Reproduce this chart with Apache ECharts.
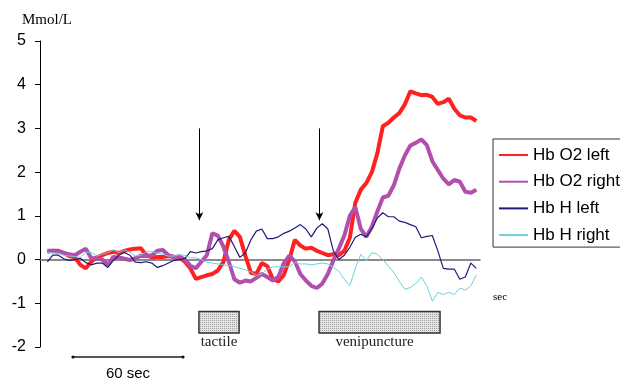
<!DOCTYPE html>
<html><head><meta charset="utf-8">
<script src="https://cdn.jsdelivr.net/npm/echarts@6/dist/echarts.min.js"></script>
<style>html,body{margin:0;padding:0;background:#fff}#c{width:620px;height:383px}</style>
</head><body><div id="c"></div>
<script>
// time in seconds
const timeSec = [4,7,10,13,16,19,22,25,28,31,34,37,40,43,46,49,52,55,58,61,64,67,70,73,76,79,82,85,88,91,94,97,100,103,106,109,112,115,118,121,124,127,130,133,136,139,142,145,148,151,154,157,160,163,166,169,172,175,178,181,184,187,190,193,196,199,202,205,208,211,214,217,220,223,226,229,232,235,238];
const hbO2Left = [0.18,0.2,0.2,0.15,0.08,0.05,-0.12,-0.2,-0.05,0.05,
  0.1,0.15,0.18,0.15,0.2,0.23,0.25,0.26,0.1,0.05,
  0.06,0.06,0.08,0.06,0.05,-0.05,-0.2,-0.44,-0.4,-0.36,
  -0.33,-0.25,-0.06,0.45,0.66,0.52,0.09,-0.3,-0.33,-0.08,
  -0.15,-0.45,-0.5,-0.35,0.0,0.45,0.32,0.25,0.27,0.2,
  0.15,0.1,0.12,0.1,0.2,0.5,1.3,1.6,1.75,2.0,
  2.43,3.05,3.13,3.25,3.35,3.55,3.85,3.8,3.76,3.77,
  3.72,3.56,3.6,3.68,3.45,3.3,3.25,3.25,3.17];
const hbO2Right = [0.2,0.2,0.18,0.15,0.12,0.1,0.18,0.25,0.03,0.03,
  0.0,-0.12,0.06,0.05,0.02,-0.01,0.03,0.09,0.08,0.1,
  0.2,0.22,0.1,0.06,0.07,0.0,-0.14,-0.2,-0.05,0.1,
  0.6,0.55,0.3,-0.05,-0.45,-0.53,-0.48,-0.5,-0.42,-0.33,
  -0.4,-0.48,-0.4,-0.08,0.09,-0.04,-0.33,-0.48,-0.6,-0.65,
  -0.55,-0.33,-0.02,0.25,0.55,1.0,1.2,0.7,0.52,0.75,
  1.1,1.42,1.46,1.7,2.08,2.38,2.61,2.67,2.75,2.62,
  2.25,2.05,1.85,1.72,1.82,1.78,1.55,1.53,1.6];
const hbHLeft = [-0.05,0.1,0.1,0.02,-0.02,0.0,0.03,-0.07,-0.12,-0.08,
  -0.08,-0.18,-0.02,0.1,0.16,0.1,-0.06,-0.07,-0.05,-0.08,
  -0.18,-0.14,-0.08,-0.02,0.0,0.02,0.18,0.15,0.18,0.2,
  0.25,0.45,0.5,0.53,0.3,0.05,0.15,0.45,0.65,0.7,
  0.48,0.48,0.52,0.6,0.65,0.72,0.8,0.7,0.52,0.72,
  0.82,0.7,0.2,0.0,0.1,0.28,0.51,0.58,0.52,0.7,
  0.95,1.07,0.98,0.98,0.88,0.85,0.8,0.75,0.5,0.53,
  0.55,0.2,-0.2,-0.22,-0.22,-0.45,-0.4,-0.08,-0.2];
const hbHRight = [0.17,0.15,0.15,0.1,0.08,0.07,0.05,0.17,0.16,0.08,
  0.12,0.16,0.22,0.16,0.22,0.17,0.08,0.1,0.18,0.18,
  0.15,0.12,0.08,0.08,0.11,0.1,0.04,0.04,0.0,-0.06,
  -0.08,-0.1,-0.12,-0.14,-0.16,-0.2,-0.23,-0.28,-0.36,-0.33,
  -0.22,-0.17,-0.16,-0.17,-0.16,-0.07,-0.1,-0.1,-0.12,-0.1,
  -0.08,-0.1,-0.18,-0.27,-0.45,-0.6,-0.2,0.12,-0.03,0.16,
  0.12,0.0,-0.15,-0.3,-0.5,-0.68,-0.64,-0.55,-0.4,-0.6,
  -0.95,-0.75,-0.8,-0.75,-0.8,-0.65,-0.7,-0.6,-0.35];
const seriesNames = ['Hb O2 left','Hb O2 right','Hb H left','Hb H right'];
const yMin = -2, yMax = 5, yStep = 1;
const xMin = 0, xMax = 240;
const arrowTimes = [86.9, 152.4];
const arrowFrom = 3.0, arrowTo = 0.9;
const stimNames = ['tactile','venipuncture'];
const stimStart = [86.7, 152.2];
const stimEnd = [108.6, 218.2];
const stimTop = -1.19, stimBottom = -1.68;
const scaleBarSec = [18, 78];
const scaleBarLabel = '60 sec';
const yUnit = 'Mmol/L';
const xUnit = 'sec';

const serif = '"Liberation Serif","Times New Roman",serif';
const sans = '"Liberation Sans",Arial,sans-serif';

const pc = document.createElement('canvas');
pc.width = 2; pc.height = 2;
const pctx = pc.getContext('2d');
pctx.fillStyle = '#e4e4e4'; pctx.fillRect(0,0,2,2);
pctx.fillStyle = '#a0a0a0'; pctx.fillRect(0,0,1,1);

const pairs = arr => timeSec.map((t,i)=>[t, arr[i]]);
const colors = ['#ff2020','#b24fae','#1c1c78','#6fd0dc'];
const widths = [4, 4, 1.2, 1];
const values = [hbO2Left, hbO2Right, hbHLeft, hbHRight];
const labelShift = [0, -5];

const chart = echarts.init(document.getElementById('c'), null, {renderer:'canvas'});
const series = values.map((v,i)=>({
  name: seriesNames[i], type:'line', data: pairs(v), symbol:'none',
  lineStyle:{color:colors[i], width:widths[i]}, itemStyle:{color:colors[i]},
  z: 2 + i
}));
series[0].markLine = {
  silent:true, symbol:['none','arrow'], symbolSize:[6,8],
  lineStyle:{color:'#000', width:1, type:'solid'}, label:{show:false},
  data: arrowTimes.map(t=>[{coord:[t, arrowFrom]},{coord:[t, arrowTo]}])
};
series[0].markArea = {
  silent:true,
  itemStyle:{color:{image:pc, repeat:'repeat'}, borderColor:'#333', borderWidth:1.5},
  label:{show:true, position:'bottom', distance:1, fontFamily:serif, fontSize:15, color:'#222'},
  data: stimNames.map((n,i)=>[{name:n, coord:[stimStart[i], stimTop], label:{offset:[labelShift[i],0]}},{coord:[stimEnd[i], stimBottom]}])
};

chart.setOption({
  animation:false,
  backgroundColor:'#fff',
  grid:{left:40, right:140, top:41, bottom:36},
  xAxis:{type:'value', min:xMin, max:xMax,
    axisLine:{show:true, onZero:true, lineStyle:{color:'#666', width:1.5}},
    axisTick:{show:false}, axisLabel:{show:false}, splitLine:{show:false}},
  yAxis:{type:'value', min:yMin, max:yMax, interval:yStep,
    axisLine:{show:true, lineStyle:{color:'#000', width:1}},
    axisTick:{show:true, length:5, lineStyle:{color:'#000'}},
    axisLabel:{fontSize:16, fontFamily:sans, color:'#000', margin:14},
    splitLine:{show:false}},
  legend:{orient:'vertical', left:493, top:139, padding:[7,40,3,5],
    itemWidth:29, itemHeight:18, itemGap:8.7,
    borderColor:'#333', borderWidth:1,
    itemStyle:{opacity:0, borderWidth:0},
    textStyle:{fontSize:17, fontFamily:sans, color:'#000', lineHeight:18},
    data: seriesNames},
  series: series
});

const bx0 = chart.convertToPixel({xAxisIndex:0}, scaleBarSec[0]);
const bx1 = chart.convertToPixel({xAxisIndex:0}, scaleBarSec[1]);
const gx0 = chart.convertToPixel({xAxisIndex:0}, xMin);
const gx1 = chart.convertToPixel({xAxisIndex:0}, xMax);
const gyb = chart.convertToPixel({yAxisIndex:0}, yMin);
const gyt = chart.convertToPixel({yAxisIndex:0}, yMax);
const by = gyb + 10;
chart.setOption({
  graphic:[
    {type:'line', shape:{x1:bx0, y1:by, x2:bx1, y2:by}, style:{stroke:'#555', lineWidth:2}},
    {type:'circle', shape:{cx:bx0, cy:by, r:1.6}, style:{fill:'#111'}},
    {type:'circle', shape:{cx:bx1, cy:by, r:1.6}, style:{fill:'#111'}},
    {type:'text', x:(bx0+bx1)/2, y:gyb+27, style:{text:scaleBarLabel, font:'15px '+sans, fill:'#000', align:'center', verticalAlign:'middle'}},
    {type:'text', x:gx1+13, y:gyb-50, style:{text:xUnit, font:'11px '+serif, fill:'#000', align:'left', verticalAlign:'middle'}},
    {type:'text', x:gx0-18, y:gyt-21, style:{text:yUnit, font:'15px '+serif, fill:'#000', align:'left', verticalAlign:'middle'}}
  ]
});
</script></body></html>
